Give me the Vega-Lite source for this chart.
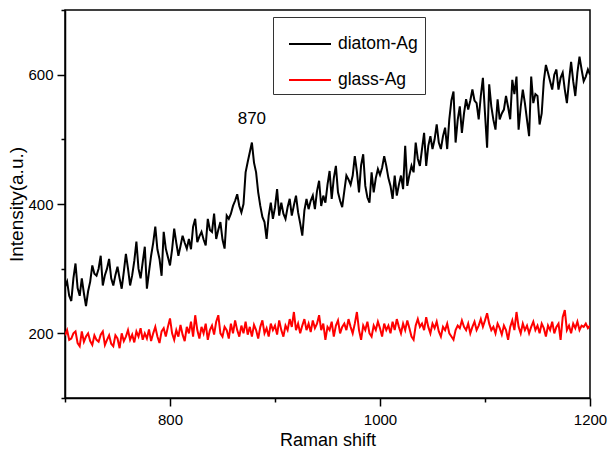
{
  "$schema": "https://vega.github.io/schema/vega-lite/v6.json",
  "width": 525,
  "height": 388,
  "autosize": "none",
  "padding": {"left": 65, "top": 10, "right": 24, "bottom": 58},
  "background": "white",
  "config": {
    "view": {"stroke": "black", "strokeWidth": 1.5},
    "font": "Liberation Sans",
    "axis": {"grid": false, "domainColor": "black", "tickColor": "black", "labelColor": "black", "titleColor": "black", "labelFont": "Liberation Sans", "titleFont": "Liberation Sans", "titleFontWeight": "normal", "domainWidth": 1.5, "tickWidth": 1.5}
  },
  "datasets": {
    "spec": [
{"x":700,"diatom-Ag":272,"glass-Ag":197},{"x":702,"diatom-Ag":280,"glass-Ag":205},{"x":704,"diatom-Ag":258,"glass-Ag":190},{"x":706,"diatom-Ag":250,"glass-Ag":192},{"x":708,"diatom-Ag":285,"glass-Ag":200},{"x":710,"diatom-Ag":308,"glass-Ag":203},{"x":712,"diatom-Ag":270,"glass-Ag":185},{"x":714,"diatom-Ag":258,"glass-Ag":180},{"x":716,"diatom-Ag":285,"glass-Ag":203},{"x":718,"diatom-Ag":262,"glass-Ag":187},
{"x":720,"diatom-Ag":242,"glass-Ag":195},{"x":722,"diatom-Ag":265,"glass-Ag":200},{"x":724,"diatom-Ag":280,"glass-Ag":188},{"x":726,"diatom-Ag":305,"glass-Ag":182},{"x":728,"diatom-Ag":292,"glass-Ag":197},{"x":730,"diatom-Ag":289,"glass-Ag":190},{"x":732,"diatom-Ag":300,"glass-Ag":187},{"x":734,"diatom-Ag":320,"glass-Ag":198},{"x":736,"diatom-Ag":274,"glass-Ag":203},{"x":738,"diatom-Ag":290,"glass-Ag":182},
{"x":740,"diatom-Ag":300,"glass-Ag":190},{"x":742,"diatom-Ag":315,"glass-Ag":197},{"x":744,"diatom-Ag":285,"glass-Ag":184},{"x":746,"diatom-Ag":274,"glass-Ag":180},{"x":748,"diatom-Ag":290,"glass-Ag":197},{"x":750,"diatom-Ag":303,"glass-Ag":192},{"x":752,"diatom-Ag":285,"glass-Ag":177},{"x":754,"diatom-Ag":269,"glass-Ag":200},{"x":756,"diatom-Ag":295,"glass-Ag":188},{"x":758,"diatom-Ag":323,"glass-Ag":195},
{"x":760,"diatom-Ag":300,"glass-Ag":205},{"x":762,"diatom-Ag":274,"glass-Ag":190},{"x":764,"diatom-Ag":290,"glass-Ag":198},{"x":766,"diatom-Ag":312,"glass-Ag":186},{"x":768,"diatom-Ag":342,"glass-Ag":203},{"x":770,"diatom-Ag":300,"glass-Ag":195},{"x":772,"diatom-Ag":285,"glass-Ag":208},{"x":774,"diatom-Ag":310,"glass-Ag":190},{"x":776,"diatom-Ag":334,"glass-Ag":200},{"x":778,"diatom-Ag":269,"glass-Ag":192},
{"x":780,"diatom-Ag":295,"glass-Ag":206},{"x":782,"diatom-Ag":320,"glass-Ag":188},{"x":784,"diatom-Ag":340,"glass-Ag":200},{"x":786,"diatom-Ag":365,"glass-Ag":210},{"x":788,"diatom-Ag":330,"glass-Ag":195},{"x":790,"diatom-Ag":315,"glass-Ag":185},{"x":792,"diatom-Ag":289,"glass-Ag":203},{"x":794,"diatom-Ag":357,"glass-Ag":208},{"x":796,"diatom-Ag":331,"glass-Ag":195},{"x":798,"diatom-Ag":318,"glass-Ag":210},
{"x":800,"diatom-Ag":305,"glass-Ag":223},{"x":802,"diatom-Ag":330,"glass-Ag":200},{"x":804,"diatom-Ag":362,"glass-Ag":190},{"x":806,"diatom-Ag":340,"glass-Ag":205},{"x":808,"diatom-Ag":320,"glass-Ag":195},{"x":810,"diatom-Ag":335,"glass-Ag":213},{"x":812,"diatom-Ag":351,"glass-Ag":198},{"x":814,"diatom-Ag":340,"glass-Ag":188},{"x":816,"diatom-Ag":331,"glass-Ag":210},{"x":818,"diatom-Ag":346,"glass-Ag":200},
{"x":820,"diatom-Ag":330,"glass-Ag":218},{"x":822,"diatom-Ag":365,"glass-Ag":195},{"x":824,"diatom-Ag":377,"glass-Ag":228},{"x":826,"diatom-Ag":341,"glass-Ag":205},{"x":828,"diatom-Ag":350,"glass-Ag":192},{"x":830,"diatom-Ag":357,"glass-Ag":210},{"x":832,"diatom-Ag":345,"glass-Ag":200},{"x":834,"diatom-Ag":336,"glass-Ag":215},{"x":836,"diatom-Ag":377,"glass-Ag":190},{"x":838,"diatom-Ag":360,"glass-Ag":205},
{"x":840,"diatom-Ag":357,"glass-Ag":212},{"x":842,"diatom-Ag":385,"glass-Ag":198},{"x":844,"diatom-Ag":346,"glass-Ag":218},{"x":846,"diatom-Ag":360,"glass-Ag":228},{"x":848,"diatom-Ag":372,"glass-Ag":200},{"x":850,"diatom-Ag":345,"glass-Ag":195},{"x":852,"diatom-Ag":331,"glass-Ag":210},{"x":854,"diatom-Ag":382,"glass-Ag":205},{"x":856,"diatom-Ag":377,"glass-Ag":192},{"x":858,"diatom-Ag":385,"glass-Ag":215},
{"x":860,"diatom-Ag":397,"glass-Ag":200},{"x":862,"diatom-Ag":405,"glass-Ag":220},{"x":864,"diatom-Ag":415,"glass-Ag":205},{"x":866,"diatom-Ag":397,"glass-Ag":195},{"x":868,"diatom-Ag":387,"glass-Ag":212},{"x":870,"diatom-Ag":400,"glass-Ag":200},{"x":872,"diatom-Ag":449,"glass-Ag":218},{"x":874,"diatom-Ag":465,"glass-Ag":198},{"x":876,"diatom-Ag":480,"glass-Ag":210},{"x":878,"diatom-Ag":495,"glass-Ag":195},
{"x":880,"diatom-Ag":464,"glass-Ag":213},{"x":882,"diatom-Ag":449,"glass-Ag":205},{"x":884,"diatom-Ag":418,"glass-Ag":192},{"x":886,"diatom-Ag":397,"glass-Ag":210},{"x":888,"diatom-Ag":380,"glass-Ag":220},{"x":890,"diatom-Ag":372,"glass-Ag":200},{"x":892,"diatom-Ag":346,"glass-Ag":208},{"x":894,"diatom-Ag":382,"glass-Ag":195},{"x":896,"diatom-Ag":402,"glass-Ag":215},{"x":898,"diatom-Ag":377,"glass-Ag":205},
{"x":900,"diatom-Ag":395,"glass-Ag":212},{"x":902,"diatom-Ag":423,"glass-Ag":198},{"x":904,"diatom-Ag":382,"glass-Ag":220},{"x":906,"diatom-Ag":402,"glass-Ag":205},{"x":908,"diatom-Ag":385,"glass-Ag":195},{"x":910,"diatom-Ag":377,"glass-Ag":212},{"x":912,"diatom-Ag":395,"glass-Ag":205},{"x":914,"diatom-Ag":408,"glass-Ag":222},{"x":916,"diatom-Ag":382,"glass-Ag":210},{"x":918,"diatom-Ag":398,"glass-Ag":233},
{"x":920,"diatom-Ag":413,"glass-Ag":205},{"x":922,"diatom-Ag":387,"glass-Ag":215},{"x":924,"diatom-Ag":370,"glass-Ag":200},{"x":926,"diatom-Ag":351,"glass-Ag":212},{"x":928,"diatom-Ag":390,"glass-Ag":222},{"x":930,"diatom-Ag":408,"glass-Ag":205},{"x":932,"diatom-Ag":392,"glass-Ag":215},{"x":934,"diatom-Ag":405,"glass-Ag":202},{"x":936,"diatom-Ag":413,"glass-Ag":220},{"x":938,"diatom-Ag":392,"glass-Ag":208},
{"x":940,"diatom-Ag":420,"glass-Ag":215},{"x":942,"diatom-Ag":436,"glass-Ag":228},{"x":944,"diatom-Ag":397,"glass-Ag":205},{"x":946,"diatom-Ag":413,"glass-Ag":215},{"x":948,"diatom-Ag":402,"glass-Ag":190},{"x":950,"diatom-Ag":430,"glass-Ag":210},{"x":952,"diatom-Ag":451,"glass-Ag":205},{"x":954,"diatom-Ag":408,"glass-Ag":218},{"x":956,"diatom-Ag":440,"glass-Ag":195},{"x":958,"diatom-Ag":459,"glass-Ag":212},
{"x":960,"diatom-Ag":418,"glass-Ag":220},{"x":962,"diatom-Ag":405,"glass-Ag":200},{"x":964,"diatom-Ag":395,"glass-Ag":210},{"x":966,"diatom-Ag":420,"glass-Ag":215},{"x":968,"diatom-Ag":444,"glass-Ag":205},{"x":970,"diatom-Ag":438,"glass-Ag":222},{"x":972,"diatom-Ag":430,"glass-Ag":210},{"x":974,"diatom-Ag":444,"glass-Ag":200},{"x":976,"diatom-Ag":474,"glass-Ag":215},{"x":978,"diatom-Ag":450,"glass-Ag":233},
{"x":980,"diatom-Ag":418,"glass-Ag":205},{"x":982,"diatom-Ag":460,"glass-Ag":190},{"x":984,"diatom-Ag":477,"glass-Ag":212},{"x":986,"diatom-Ag":428,"glass-Ag":205},{"x":988,"diatom-Ag":410,"glass-Ag":218},{"x":990,"diatom-Ag":402,"glass-Ag":200},{"x":992,"diatom-Ag":449,"glass-Ag":195},{"x":994,"diatom-Ag":418,"glass-Ag":212},{"x":996,"diatom-Ag":440,"glass-Ag":205},{"x":998,"diatom-Ag":454,"glass-Ag":218},
{"x":1000,"diatom-Ag":445,"glass-Ag":208},{"x":1002,"diatom-Ag":456,"glass-Ag":195},{"x":1004,"diatom-Ag":474,"glass-Ag":215},{"x":1006,"diatom-Ag":459,"glass-Ag":205},{"x":1008,"diatom-Ag":440,"glass-Ag":212},{"x":1010,"diatom-Ag":428,"glass-Ag":200},{"x":1012,"diatom-Ag":408,"glass-Ag":218},{"x":1014,"diatom-Ag":444,"glass-Ag":205},{"x":1016,"diatom-Ag":413,"glass-Ag":222},{"x":1018,"diatom-Ag":430,"glass-Ag":210},
{"x":1020,"diatom-Ag":444,"glass-Ag":200},{"x":1022,"diatom-Ag":423,"glass-Ag":215},{"x":1024,"diatom-Ag":490,"glass-Ag":205},{"x":1026,"diatom-Ag":428,"glass-Ag":220},{"x":1028,"diatom-Ag":445,"glass-Ag":208},{"x":1030,"diatom-Ag":459,"glass-Ag":195},{"x":1032,"diatom-Ag":449,"glass-Ag":190},{"x":1034,"diatom-Ag":495,"glass-Ag":212},{"x":1036,"diatom-Ag":470,"glass-Ag":222},{"x":1038,"diatom-Ag":459,"glass-Ag":210},
{"x":1040,"diatom-Ag":485,"glass-Ag":215},{"x":1042,"diatom-Ag":510,"glass-Ag":205},{"x":1044,"diatom-Ag":459,"glass-Ag":225},{"x":1046,"diatom-Ag":490,"glass-Ag":210},{"x":1048,"diatom-Ag":505,"glass-Ag":200},{"x":1050,"diatom-Ag":485,"glass-Ag":215},{"x":1052,"diatom-Ag":500,"glass-Ag":208},{"x":1054,"diatom-Ag":523,"glass-Ag":218},{"x":1056,"diatom-Ag":495,"glass-Ag":203},{"x":1058,"diatom-Ag":485,"glass-Ag":195},
{"x":1060,"diatom-Ag":505,"glass-Ag":210},{"x":1062,"diatom-Ag":518,"glass-Ag":205},{"x":1064,"diatom-Ag":485,"glass-Ag":215},{"x":1066,"diatom-Ag":531,"glass-Ag":200},{"x":1068,"diatom-Ag":560,"glass-Ag":195},{"x":1070,"diatom-Ag":574,"glass-Ag":190},{"x":1072,"diatom-Ag":495,"glass-Ag":205},{"x":1074,"diatom-Ag":530,"glass-Ag":212},{"x":1076,"diatom-Ag":551,"glass-Ag":208},{"x":1078,"diatom-Ag":510,"glass-Ag":220},
{"x":1080,"diatom-Ag":540,"glass-Ag":210},{"x":1082,"diatom-Ag":562,"glass-Ag":205},{"x":1084,"diatom-Ag":546,"glass-Ag":215},{"x":1086,"diatom-Ag":560,"glass-Ag":200},{"x":1088,"diatom-Ag":577,"glass-Ag":210},{"x":1090,"diatom-Ag":560,"glass-Ag":218},{"x":1092,"diatom-Ag":556,"glass-Ag":205},{"x":1094,"diatom-Ag":531,"glass-Ag":212},{"x":1096,"diatom-Ag":567,"glass-Ag":222},{"x":1098,"diatom-Ag":595,"glass-Ag":210},
{"x":1100,"diatom-Ag":540,"glass-Ag":220},{"x":1102,"diatom-Ag":487,"glass-Ag":231},{"x":1104,"diatom-Ag":585,"glass-Ag":215},{"x":1106,"diatom-Ag":551,"glass-Ag":205},{"x":1108,"diatom-Ag":530,"glass-Ag":210},{"x":1110,"diatom-Ag":515,"glass-Ag":200},{"x":1112,"diatom-Ag":562,"glass-Ag":215},{"x":1114,"diatom-Ag":531,"glass-Ag":208},{"x":1116,"diatom-Ag":540,"glass-Ag":198},{"x":1118,"diatom-Ag":546,"glass-Ag":212},
{"x":1120,"diatom-Ag":567,"glass-Ag":205},{"x":1122,"diatom-Ag":550,"glass-Ag":190},{"x":1124,"diatom-Ag":531,"glass-Ag":210},{"x":1126,"diatom-Ag":592,"glass-Ag":220},{"x":1128,"diatom-Ag":570,"glass-Ag":205},{"x":1130,"diatom-Ag":597,"glass-Ag":233},{"x":1132,"diatom-Ag":515,"glass-Ag":210},{"x":1134,"diatom-Ag":550,"glass-Ag":200},{"x":1136,"diatom-Ag":577,"glass-Ag":215},{"x":1138,"diatom-Ag":556,"glass-Ag":205},
{"x":1140,"diatom-Ag":530,"glass-Ag":212},{"x":1142,"diatom-Ag":505,"glass-Ag":200},{"x":1144,"diatom-Ag":597,"glass-Ag":210},{"x":1146,"diatom-Ag":556,"glass-Ag":218},{"x":1148,"diatom-Ag":570,"glass-Ag":205},{"x":1150,"diatom-Ag":567,"glass-Ag":212},{"x":1152,"diatom-Ag":523,"glass-Ag":200},{"x":1154,"diatom-Ag":540,"glass-Ag":215},{"x":1156,"diatom-Ag":590,"glass-Ag":208},{"x":1158,"diatom-Ag":615,"glass-Ag":195},
{"x":1160,"diatom-Ag":603,"glass-Ag":212},{"x":1162,"diatom-Ag":590,"glass-Ag":205},{"x":1164,"diatom-Ag":577,"glass-Ag":218},{"x":1166,"diatom-Ag":600,"glass-Ag":200},{"x":1168,"diatom-Ag":608,"glass-Ag":210},{"x":1170,"diatom-Ag":577,"glass-Ag":215},{"x":1172,"diatom-Ag":595,"glass-Ag":190},{"x":1174,"diatom-Ag":603,"glass-Ag":225},{"x":1176,"diatom-Ag":577,"glass-Ag":236},{"x":1178,"diatom-Ag":556,"glass-Ag":205},
{"x":1180,"diatom-Ag":590,"glass-Ag":212},{"x":1182,"diatom-Ag":620,"glass-Ag":200},{"x":1184,"diatom-Ag":590,"glass-Ag":215},{"x":1186,"diatom-Ag":567,"glass-Ag":208},{"x":1188,"diatom-Ag":603,"glass-Ag":218},{"x":1190,"diatom-Ag":628,"glass-Ag":205},{"x":1192,"diatom-Ag":608,"glass-Ag":212},{"x":1194,"diatom-Ag":590,"glass-Ag":210},{"x":1196,"diatom-Ag":597,"glass-Ag":215},{"x":1198,"diatom-Ag":608,"glass-Ag":208},
{"x":1200,"diatom-Ag":600,"glass-Ag":212}
    ],
    "note": [{"x": 878, "y": 532, "label": "870"}]
  },
  "layer": [
    {
      "data": {"name": "spec"},
      "transform": [{"fold": ["diatom-Ag", "glass-Ag"], "as": ["series", "intensity"]}],
      "mark": {"type": "line", "strokeWidth": 2, "clip": true},
      "encoding": {
        "x": {"field": "x", "type": "quantitative", "title": "Raman shift",
          "scale": {"domain": [700, 1200], "nice": false, "zero": false},
          "axis": {"values": [700, 800, 900, 1000, 1100, 1200], "format": "d", "labelExpr": "datum.value % 200 == 0 ? datum.label : ''",
            "labelFontSize": 15, "titleFontSize": 18, "labelPadding": 6, "titlePadding": 4, "labelFlush": false,
            "tickSize": {"condition": {"test": "datum.value % 200 == 0", "value": 8}, "value": 4}}},
        "y": {"field": "intensity", "type": "quantitative", "title": "Intensity(a.u.)",
          "scale": {"domain": [100, 700], "nice": false, "zero": false},
          "axis": {"values": [100, 200, 300, 400, 500, 600, 700], "format": "d", "labelExpr": "datum.value % 200 == 0 ? datum.label : ''",
            "labelFontSize": 15, "titleFontSize": 19, "labelPadding": 4, "titlePadding": 1,
            "tickSize": {"condition": {"test": "datum.value % 200 == 0", "value": 8}, "value": 4}}},
        "color": {"field": "series", "type": "nominal",
          "scale": {"domain": ["diatom-Ag", "glass-Ag"], "range": ["#000000", "#ff0000"]},
          "legend": {"orient": "none", "legendX": 208, "legendY": 7, "symbolType": "stroke", "symbolSize": 1764, "symbolStrokeWidth": 2,
            "title": "\u00a0", "titleOrient": "right", "titleFontSize": 4, "titlePadding": 2,
            "labelFontSize": 17.5, "labelFont": "Liberation Sans", "labelColor": "black", "strokeColor": "#333", "fillColor": "white",
            "padding": 5, "rowPadding": 5, "symbolOffset": 10, "labelOffset": 6}}
      }
    },
    {
      "data": {"name": "note"},
      "mark": {"type": "text", "fontSize": 17, "font": "Liberation Sans", "baseline": "middle", "align": "center", "color": "black"},
      "encoding": {
        "x": {"field": "x", "type": "quantitative"},
        "y": {"field": "y", "type": "quantitative"},
        "text": {"field": "label"}
      }
    }
  ]
}
